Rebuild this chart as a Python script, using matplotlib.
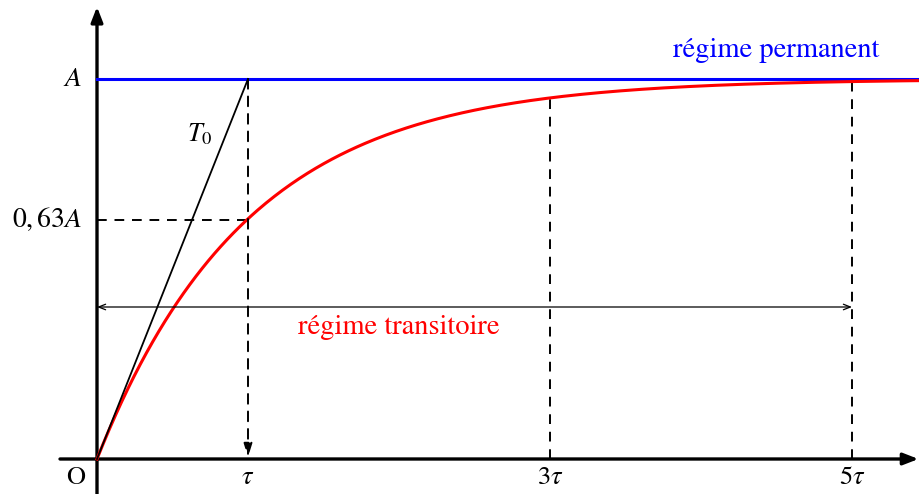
import numpy as np
import matplotlib

matplotlib.use("Agg")
import matplotlib.pyplot as plt

plt.rcParams["mathtext.fontset"] = "stix"
plt.rcParams["font.family"] = ["STIXGeneral", "DejaVu Serif"]

# time constants (in units of tau) marked on the time axis
marks = [1, 3, 5]
mark_labels = [r"$\tau$", r"$3\tau$", r"$5\tau$"]
amplitude = 1.0
level_63 = 0.63
t_end = 5.45

fig = plt.figure(figsize=(9.19, 4.94), dpi=100)
ax = fig.add_axes([0, 0, 1, 1])
ax.set_xlim(-97 / 151, 822 / 151)
ax.set_ylim(-35 / 380, 459 / 380)
ax.axis("off")

t = np.linspace(0, t_end, 400)
response = amplitude * (1 - np.exp(-t))

# axes with arrow heads
axis_arrow = dict(arrowstyle="-|>,head_length=0.9,head_width=0.35", color="black",
                  lw=2.4, shrinkA=0, shrinkB=0)
ax.annotate("", xy=(5.44, 0), xytext=(-0.245, 0), arrowprops=axis_arrow,
            annotation_clip=False)
ax.annotate("", xy=(0, 1.19), xytext=(0, -0.1), arrowprops=axis_arrow,
            annotation_clip=False)

# steady state and step response
ax.plot([0, t_end], [amplitude, amplitude], color="#0000ff", lw=2.2, zorder=3)
ax.plot(t, response, color="#ff0000", lw=2.2, zorder=3)

# tangent at the origin
ax.plot([0, 1], [0, amplitude], color="black", lw=1.3, zorder=4)
ax.text(0.68, 0.855, r"$T_0$", fontsize=19, ha="center", va="center")

dash = dict(color="black", lw=1.4, ls=(0, (5, 4)))
ax.plot([0, 1], [level_63, level_63], **dash)
ax.annotate("", xy=(1, 0.005), xytext=(1, amplitude),
            arrowprops=dict(arrowstyle="-|>,head_length=0.8,head_width=0.25", color="black",
                            lw=1.4, ls=(0, (5, 4)), shrinkA=0, shrinkB=0))
for m in marks[1:]:
    ax.plot([m, m], [0, amplitude * (1 - np.exp(-m))], **dash)

for m, lab in zip(marks, mark_labels):
    ax.text(m, -0.05, lab, fontsize=19, ha="center", va="center")
ax.text(-0.14, -0.05, "O", fontsize=19, ha="center", va="center")
ax.text(-0.1, amplitude, r"$A$", fontsize=20, ha="right", va="center")
ax.text(-0.1, level_63, r"$0,63A$", fontsize=20, ha="right", va="center")

# transient duration
ax.annotate("", xy=(0, 0.4), xytext=(5, 0.4),
            arrowprops=dict(arrowstyle="<->,head_length=0.5,head_width=0.2", color="black",
                            lw=0.9, shrinkA=0, shrinkB=0))
ax.text(2.0, 0.345, "régime transitoire", fontsize=20.5, color="#ff0000", ha="center", va="center")
ax.text(4.5, 1.076, "régime permanent", fontsize=20.5, color="#0000ff", ha="center", va="center")

fig.savefig("out.png", dpi=100)
